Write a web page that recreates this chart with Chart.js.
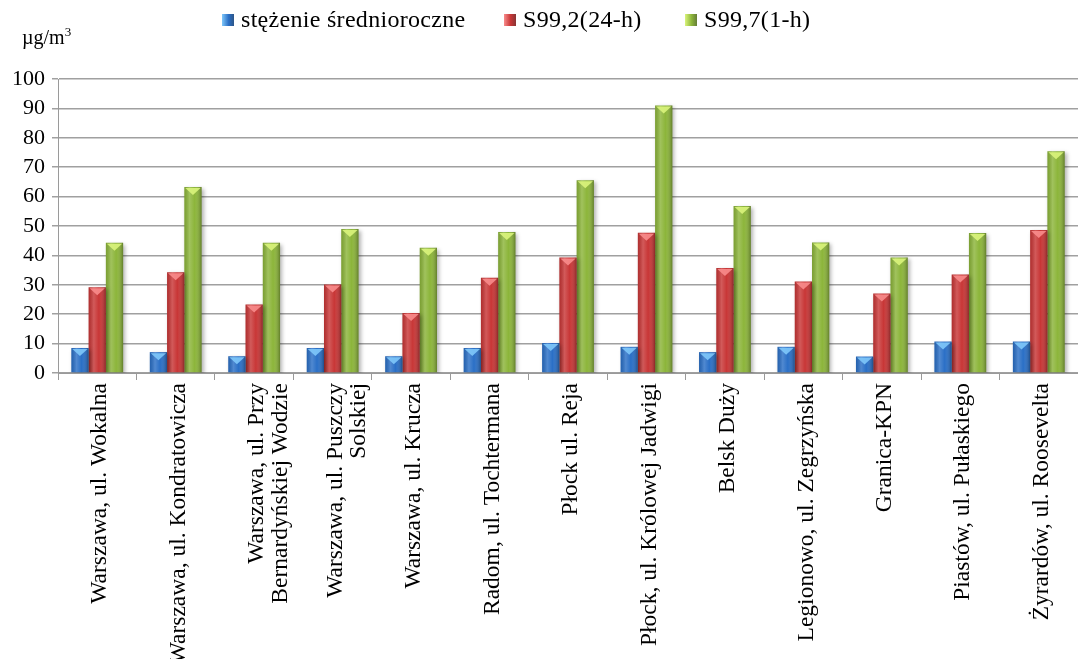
<!DOCTYPE html>
<html>
<head>
<meta charset="utf-8">
<script src="https://cdn.jsdelivr.net/npm/chart.js@4"></script>
<style>
  body { margin: 0; background: #fff; }
  #wrap { position: relative; width: 1078px; height: 659px; }
  #legend { position: absolute; left: 222px; top: 6px; display: flex; align-items: center;
    font-family: "Liberation Serif", "Times New Roman", serif; font-size: 24px; letter-spacing: 0.3px; color: #000; }
  #legend .item { display: flex; align-items: center; white-space: nowrap; }
  #legend .item:nth-child(1) { width: 282px; }
  #legend .item:nth-child(2) { width: 181px; }
  #legend .box { width: 12px; height: 12px; margin-right: 7px; flex: none; }
  #unit { position: absolute; left: 22px; top: 24px; font-family: "Liberation Serif", "Times New Roman", serif; font-size: 20px; }
  #unit sup { font-size: 13px; }
</style>
</head>
<body>
<div id="wrap">
  <canvas id="chart"></canvas>
  <div id="legend"></div>
  <div id="unit">µg/m<sup>3</sup></div>
</div>
<script>
// ── DANE ───────────────────────────────────────────────────────────────────
const stacje = [
  'Warszawa, ul. Wokalna',
  'Warszawa, ul. Kondratowicza',
  ['Warszawa, ul. Przy', 'Bernardyńskiej Wodzie'],
  ['Warszawa, ul. Puszczy', 'Solskiej'],
  'Warszawa, ul. Krucza',
  'Radom, ul. Tochtermana',
  'Płock ul. Reja',
  'Płock, ul. Królowej Jadwigi',
  'Belsk Duży',
  'Legionowo, ul. Zegrzyńska',
  'Granica-KPN',
  'Piastów, ul. Pułaskiego',
  'Żyrardów, ul. Roosevelta'
];
const srednioroczne = [8.5, 7.1, 5.7, 8.5, 5.7, 8.5, 10.2, 8.9, 7.1, 8.9, 5.6, 10.7, 10.7];
const s992 = [29.2, 34.3, 23.3, 30.1, 20.4, 32.4, 39.3, 47.7, 35.7, 31.1, 27.0, 33.5, 48.6];
const s997 = [44.3, 63.3, 44.3, 49.0, 42.6, 48.0, 65.6, 91.0, 56.8, 44.4, 39.3, 47.6, 75.4];
const serie = ['stężenie średnioroczne', 'S99,2(24-h)', 'S99,7(1-h)'];
const kolory = ['#2a6fc6', '#c83636', '#8cb53a'];
const jasne = ['#80c8fa', '#f88c8c', '#daf47c'];

// ── LEGENDA (HTML) ─────────────────────────────────────────────────────────
const leg = document.getElementById('legend');
serie.forEach((s, i) => {
  leg.innerHTML += `<div class="item"><div class="box" style="background:linear-gradient(90deg, ${jasne[i]}, ${kolory[i]} 55%, #333 160%)"></div><span>${s}</span></div>`;
});

// ── EFEKT 3D SŁUPKÓW ───────────────────────────────────────────────────────
const bevel = {
  id: 'bevel',
  beforeDatasetsDraw(chart) {
    const ctx = chart.ctx;
    ctx.save();
    ctx.shadowColor = 'rgba(0,0,0,0.3)';
    ctx.shadowBlur = 4;
    ctx.shadowOffsetX = 2;
    ctx.shadowOffsetY = 2;
  },
  afterDatasetsDraw(chart) {
    const ctx = chart.ctx;
    ctx.restore();
    chart.data.datasets.forEach((ds, di) => {
      chart.getDatasetMeta(di).data.forEach(el => {
        const { x, y, base, width } = el.getProps(['x', 'y', 'base', 'width'], true);
        const l = x - width / 2, r = x + width / 2;
        const g = ctx.createLinearGradient(l, 0, r, 0);
        g.addColorStop(0, 'rgba(0,0,0,0.12)');
        g.addColorStop(0.3, 'rgba(255,255,255,0.18)');
        g.addColorStop(0.6, 'rgba(255,255,255,0.0)');
        g.addColorStop(1, 'rgba(0,0,0,0.3)');
        ctx.save();
        ctx.fillStyle = g;
        ctx.fillRect(l, y, width, base - y);
        // trójkąt na górze
        const h = Math.min(8, (base - y) / 2);
        ctx.fillStyle = jasne[di];
        ctx.globalAlpha = 0.9;
        ctx.beginPath();
        ctx.moveTo(l + 1, y + 1);
        ctx.lineTo(r - 1, y + 1);
        ctx.lineTo(x, y + h);
        ctx.closePath();
        ctx.fill();
        ctx.restore();
      });
    });
  }
};

// ── WYKRES ─────────────────────────────────────────────────────────────────
const dane = [srednioroczne, s992, s997];
new Chart(document.getElementById('chart'), {
  type: 'bar',
  data: {
    labels: stacje,
    datasets: dane.map((d, i) => ({
      label: serie[i], data: d, backgroundColor: kolory[i],
      borderWidth: 0, barPercentage: 1, categoryPercentage: 0.66
    }))
  },
  options: {
    responsive: true, maintainAspectRatio: false, animation: false,
    layout: { padding: { top: 79, right: 0, left: 0, bottom: 0 } },
    plugins: { legend: { display: false }, tooltip: { enabled: false } },
    scales: {
      x: {
        afterFit: s => { s.height = 286; },
        grid: { offset: true, drawOnChartArea: false, color: '#9a9a9a', tickLength: 7 },
        border: { color: '#9a9a9a' },
        ticks: { color: '#000', minRotation: 90, maxRotation: 90, autoSkip: false, padding: 3,
          labelOffset: 3,
          font: { family: "'Liberation Serif', serif", size: 23.5, lineHeight: 1.0 } }
      },
      y: {
        min: 0, max: 100,
        afterFit: s => { s.width = 58; },
        grid: { color: '#a0a0a0', lineWidth: 1.5, tickLength: 6 },
        border: { color: '#9a9a9a' },
        ticks: { stepSize: 10, color: '#000', padding: 7,
          font: { family: "'Liberation Serif', serif", size: 22 } }
      }
    }
  },
  plugins: [bevel]
});
</script>
</body>
</html>
